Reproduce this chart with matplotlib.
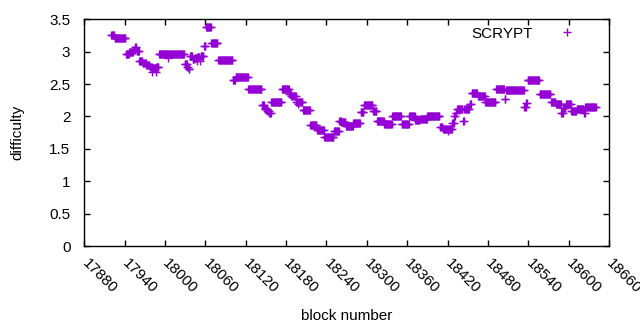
"""
Scrypt difficulty per block number (gnuplot-style point plot)
"""

import numpy as np
import matplotlib
matplotlib.use("Agg")
import matplotlib.pyplot as plt

# ── Data ──────────────────────────────────────────────────────
# difficulty is constant over runs of blocks: each run starts at
# run_start and lasts until the next run starts (or last_block)
run_start = [
    17920, 17925, 17942, 17947, 17953, 17956, 17958, 17962, 17967, 17972,
    17977, 17981, 17982, 17986, 17987, 17991, 18004, 18005, 18029, 18033,
    18035, 18037, 18041, 18044, 18047, 18048, 18052, 18053, 18058, 18061,
    18069, 18079, 18101, 18105, 18124, 18144, 18148, 18152, 18155, 18158,
    18174, 18185, 18188, 18195, 18197, 18198, 18205, 18216, 18226, 18237,
    18251, 18259, 18262, 18269, 18280, 18291, 18296, 18309, 18315, 18326,
    18338, 18352, 18363, 18372, 18379, 18390, 18409, 18413, 18420, 18421,
    18427, 18430, 18432, 18434, 18443, 18445, 18453, 18456, 18465, 18476,
    18492, 18505, 18507, 18534, 18537, 18539, 18557, 18574, 18581, 18589,
    18592, 18596, 18604, 18612, 18623, 18625,
]
run_diff = [
    3.25, 3.21, 2.97, 3.00, 3.03, 3.07, 3.01, 2.86, 2.83, 2.79,
    2.76, 2.69, 2.75, 2.68, 2.77, 2.97, 2.91, 2.97, 2.81, 2.77,
    2.73, 2.93, 2.88, 2.91, 2.85, 2.92, 2.86, 2.93, 3.09, 3.38,
    3.14, 2.87, 2.56, 2.61, 2.42, 2.17, 2.12, 2.08, 2.05, 2.22,
    2.43, 2.35, 2.32, 2.22, 2.19, 2.22, 2.10, 1.87, 1.79, 1.69,
    1.77, 1.93, 1.91, 1.86, 1.90, 2.07, 2.18, 2.08, 1.93, 1.88,
    2.00, 1.88, 2.00, 1.94, 1.96, 2.00, 1.83, 1.80, 1.77, 1.80,
    1.90, 2.00, 2.06, 2.12, 1.93, 2.12, 2.20, 2.36, 2.32, 2.22,
    2.43, 2.27, 2.41, 2.15, 2.21, 2.57, 2.35, 2.22, 2.20, 2.05,
    2.13, 2.20, 2.08, 2.12, 2.05, 2.14,
]
last_block = 18641

x_ticks = list(range(17880, 18661, 60))
y_ticks = [0, 0.5, 1, 1.5, 2, 2.5, 3, 3.5]

# ── Expand runs to one point per block ────────────────────────
bounds = run_start + [last_block]
blocks, diffs = [], []
for i, d in enumerate(run_diff):
    for b in range(bounds[i], bounds[i + 1]):
        blocks.append(b)
        diffs.append(d)

# ── Plot ──────────────────────────────────────────────────────
plt.rcParams["font.family"] = ["Liberation Sans", "DejaVu Sans"]
FS = 11

fig = plt.figure(figsize=(6.4, 3.3), dpi=100)
ax = fig.add_axes([0.1317, 0.2545, 0.9516 - 0.1317, 0.9415 - 0.2545])

ax.plot(blocks, diffs, linestyle="none", marker="+", color="#9400D3",
        markersize=5.5, markeredgewidth=1.0, label="SCRYPT")

ax.set_xlim(17880, 18660)
ax.set_ylim(0, 3.5)
ax.set_xticks(x_ticks)
ax.set_yticks(y_ticks)
ax.set_yticklabels([f"{v:g}" for v in y_ticks], fontsize=FS)
ax.set_xticklabels([str(v) for v in x_ticks], fontsize=FS,
                   rotation=-45, ha="left", va="center",
                   rotation_mode="anchor")

ax.tick_params(axis="both", direction="in", length=4, width=1,
               top=True, right=True, color="black")
ax.tick_params(axis="x", pad=11)
ax.tick_params(axis="y", pad=10)
for s in ax.spines.values():
    s.set_linewidth(1.0)
    s.set_color("black")

ax.set_xlabel("block number", fontsize=FS)
ax.set_ylabel("difficulty", fontsize=FS)
ax.xaxis.set_label_coords(0.5, -0.28)
ax.yaxis.set_label_coords(-0.114, 0.5)

ax.legend(loc="upper right", bbox_to_anchor=(0.9486, 0.968),
          markerfirst=False, frameon=False, fontsize=FS, numpoints=1,
          handlelength=2.0, handletextpad=1.2, borderpad=0,
          borderaxespad=0)

fig.savefig("out.png", dpi=100)
